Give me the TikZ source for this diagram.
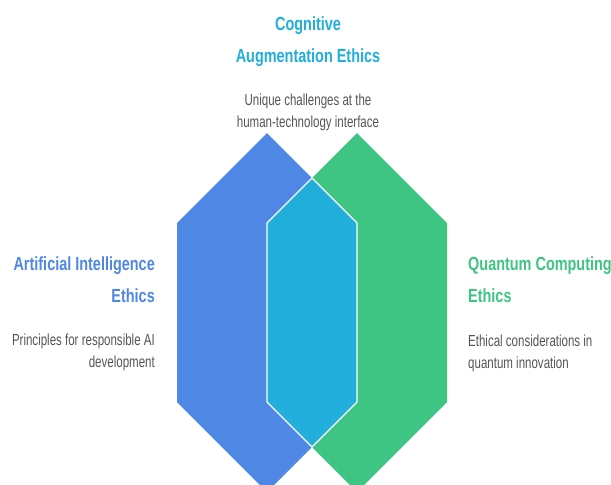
\documentclass[tikz,border=0pt]{standalone}
\usepackage{fontspec}
\setmainfont{Liberation Sans}
\newfontfamily\headfont[FakeStretch=0.76]{Liberation Sans}
\newfontfamily\notefont[FakeStretch=0.72]{Liberation Sans}
\usepackage{tikz}

\definecolor{aiblue}{HTML}{4F87E4}
\definecolor{qgreen}{HTML}{3EC584}
\definecolor{cogcyan}{HTML}{21AEDA}
\definecolor{descgray}{HTML}{555555}

\tikzset{
title/.style={font=\headfont\bfseries\fontsize{19}{32}\selectfont, inner sep=0pt},
desc/.style={font=\notefont\fontsize{16}{21.5}\selectfont, text=descgray, inner sep=0pt},
}

\begin{document}
\begin{tikzpicture}[x=1pt,y=-1pt]
\useasboundingbox (0,0) rectangle (611,485);
% draws hexagons
\fill[aiblue] (267,133) -- (357,223) -- (357,402) -- (267,492) -- (177,402) -- (177,223) -- cycle;
\fill[qgreen] (357,133) -- (447,223) -- (447,402) -- (357,492) -- (267,402) -- (267,223) -- cycle;
% overlap
\filldraw[fill=cogcyan, draw=white, line width=1.2pt] (312,178) -- (357,223) -- (357,402) -- (312,447) -- (267,402) -- (267,223) -- cycle;
% labels (anchored at the base of the last line)
\node[title, text=cogcyan, align=center, anchor=base] (cogtitle) at (308,62) {Cognitive\\Augmentation Ethics};
\node[desc, align=center, anchor=base] (cogdesc) at (308,127) {Unique challenges at the\\human-technology interface};
\node[title, text=aiblue, align=right, anchor=base east] (aititle) at (155,302) {Artificial Intelligence\\Ethics};
\node[desc, align=right, anchor=base east] (aidesc) at (155,367) {Principles for responsible AI\\development};
\node[title, text=qgreen, align=left, anchor=base west] (qtitle) at (468,302) {Quantum Computing\\Ethics};
\node[desc, align=left, anchor=base west] (qdesc) at (468,368) {Ethical considerations in\\quantum innovation};
\end{tikzpicture}
\end{document}
